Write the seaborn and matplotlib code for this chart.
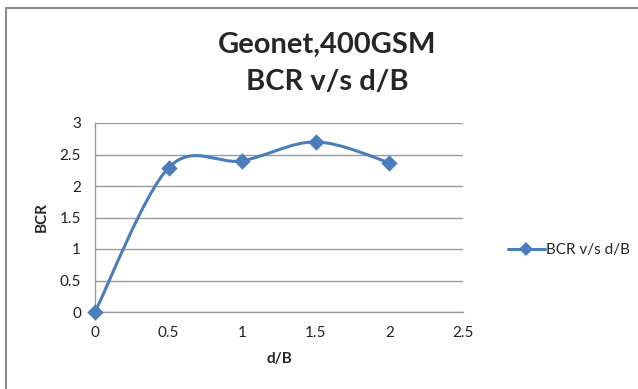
import numpy as np
import matplotlib
matplotlib.use("Agg")
import matplotlib.pyplot as plt
from matplotlib.path import Path
from matplotlib.patches import PathPatch
from matplotlib.lines import Line2D
import seaborn as sns
import pandas as pd

# data
d_over_B = [0, 0.5, 1.0, 1.5, 2.0]
bcr = [0.0, 2.29, 2.40, 2.70, 2.37]
series_name = "BCR v/s d/B"
title_lines = ["Geonet,400GSM", "BCR v/s d/B"]
x_ticks = [0, 0.5, 1, 1.5, 2, 2.5]
y_ticks = [0, 0.5, 1, 1.5, 2, 2.5, 3]

sns.set_theme(style="white")
plt.rcParams['font.family'] = ['Lato', 'DejaVu Sans']

color = "#4A7EBB"
grid_c = "#9A9A9A"

fig = plt.figure(figsize=(6.38, 3.89), dpi=100)
fig.patch.set_facecolor("white")
ax = fig.add_axes([95/638, 1-312/389, (463-95)/638, (312-123)/389])

# outer chart border (only left/top visible in the crop)
fig.add_artist(Line2D([6/638, 6/638], [0, 1-8/389], transform=fig.transFigure, color="#8C8C8C", lw=1.5))
fig.add_artist(Line2D([6/638, 1], [1-8/389, 1-8/389], transform=fig.transFigure, color="#8C8C8C", lw=1.5))

df = pd.DataFrame({"x": d_over_B, "y": bcr})

# smoothed line (Excel-style Bezier through the data points)
xs = np.array(d_over_B, float)
ys = np.array(bcr, float)
P = np.column_stack([xs, ys])
n = len(P)
verts = [tuple(P[0])]
codes = [Path.MOVETO]
for i in range(n - 1):
    p0 = P[i - 1] if i > 0 else P[i]
    p1 = P[i]
    p2 = P[i + 1]
    p3 = P[i + 2] if i + 2 < n else P[i + 1]
    c1 = p1 + (p2 - p0) / 6.0
    c2 = p2 - (p3 - p1) / 6.0
    verts += [tuple(c1), tuple(c2), tuple(p2)]
    codes += [Path.CURVE4] * 3
ax.add_patch(PathPatch(Path(verts, codes), facecolor="none", edgecolor=color, lw=2.2, zorder=3))

sns.scatterplot(data=df, x="x", y="y", marker="D", s=70, color=color, edgecolor=color,
                linewidth=0, zorder=4, ax=ax, legend=False)

ax.set_xlim(0, 2.5)
ax.set_ylim(0, 3)
ax.set_xticks(x_ticks)
ax.set_yticks(y_ticks)
ax.set_xticklabels([f"{t:g}" for t in x_ticks])
ax.set_yticklabels([f"{t:g}" for t in y_ticks])
ax.tick_params(axis="both", labelsize=11, colors="#222222", length=0, pad=10)
ax.yaxis.grid(True, color=grid_c, lw=1)
ax.xaxis.grid(False)
for s in ["top", "right"]:
    ax.spines[s].set_visible(False)
ax.spines["left"].set_color(grid_c)
ax.spines["bottom"].set_color(grid_c)
ax.spines["left"].set_linewidth(1)
ax.spines["bottom"].set_linewidth(1)
ax.set_axisbelow(True)
for c in ax.collections:
    c.set_clip_on(False)

ax.set_xlabel("d/B", fontsize=11, fontweight="bold", labelpad=9)
ax.set_ylabel("BCR", fontsize=11, fontweight="bold", labelpad=8)

fig.text(327/638, 1-45/389, title_lines[0], ha="center", va="center", fontsize=21, fontweight="bold")
fig.text(327/638, 1-82/389, title_lines[1], ha="center", va="center", fontsize=21, fontweight="bold")

handle = Line2D([], [], color=color, lw=2.2, marker="D", markersize=7, markeredgewidth=0)
fig.legend([handle], [series_name], loc="center left", bbox_to_anchor=(502/638, 1-250/389),
           frameon=False, fontsize=11, handlelength=2.4, handletextpad=0.1, borderaxespad=0)

fig.savefig("out.png", dpi=100, facecolor="white")
